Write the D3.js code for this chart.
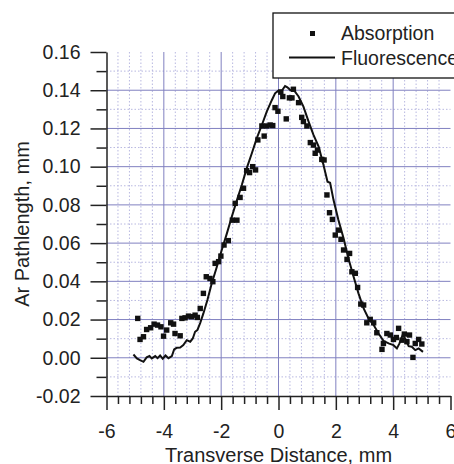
<!DOCTYPE html>
<html>
<head>
<meta charset="utf-8">
<script src="https://d3js.org/d3.v7.min.js"></script>
<style>
html, body { margin: 0; padding: 0; background: #fff; }
svg { font-family: 'Liberation Sans', Arial, sans-serif; }
.axis path, .axis line { stroke: #222; stroke-width: 1.5px; }
.axis text { font-size: 19.5px; fill: #222; }
.major-grid line { stroke: #8080c0; stroke-width: 1px; }
.minor-grid line { stroke: #b8b8e0; stroke-width: 1px; stroke-dasharray: 1.5,2; }
</style>
</head>
<body>
<script>
// absorption measurements (x in mm, pathlength in mm)
var absX = [-4.91, -4.83, -4.71, -4.60, -4.46, -4.34, -4.22, -4.10, -4.01, -3.90, -3.76, -3.66, -3.61, -3.43,
  -3.37, -3.26, -3.14, -3.03, -2.91, -2.83, -2.73, -2.62, -2.52, -2.39, -2.29, -2.21, -2.09, -2.01, -1.90,
  -1.75, -1.61, -1.45, -1.51, -1.34, -1.22, -1.11, -1.01, -0.90, -0.80, -0.72, -0.58, -0.50, -0.41, -0.29,
  -0.20, -0.12, -0.02, 0.08, 0.15, 0.27, 0.38, 0.47, 0.52, 0.70, 0.81, 0.87, 0.99, 1.11, 1.22, 1.28, 1.36,
  1.51, 1.59, 1.69, 1.78, 1.88, 1.98, 2.09, 2.18, 2.27, 2.39, 2.48, 2.56, 2.68, 2.76, 2.87, 2.97, 3.08,
  3.20, 3.32, 3.43, 3.61, 3.66, 3.78, 3.90, 4.01, 4.11, 4.19, 4.31, 4.39, 4.48, 4.57, 4.69, 4.77, 4.89, 5.00];
var absY = [0.0206, 0.0096, 0.0110, 0.0148, 0.0157, 0.0176, 0.0171, 0.0162, 0.0113, 0.0145, 0.0183, 0.0176,
  0.0127, 0.0115, 0.0206, 0.0209, 0.0218, 0.0215, 0.0223, 0.0211, 0.0258, 0.0337, 0.0424, 0.0415, 0.0398,
  0.0494, 0.0503, 0.0532, 0.0590, 0.0613, 0.0720, 0.0720, 0.0808, 0.0839, 0.0887, 0.0979, 0.0969, 0.1000,
  0.0983, 0.1140, 0.1213, 0.1160, 0.1213, 0.1218, 0.1215, 0.1309, 0.1290, 0.1390, 0.1367, 0.1250, 0.1360,
  0.1360, 0.1405, 0.1335, 0.1258, 0.1236, 0.1213, 0.1126, 0.1113, 0.1070, 0.1087, 0.1038, 0.1035, 0.0852,
  0.0759, 0.0724, 0.0642, 0.0668, 0.0620, 0.0564, 0.0515, 0.0546, 0.0450, 0.0442, 0.0368, 0.0281, 0.0276,
  0.0183, 0.0201, 0.0183, 0.0131, 0.0044, 0.0075, 0.0127, 0.0119, 0.0096, 0.0106, 0.0154, 0.0092, 0.0124,
  0.0084, 0.0119, 0.0002, 0.0075, 0.0096, 0.0072];

// fluorescence trace
var fluX = [-5.06, -4.94, -4.83, -4.71, -4.60, -4.50, -4.42, -4.30, -4.22, -4.13, -4.04, -3.94, -3.84, -3.72,
  -3.64, -3.55, -3.43, -3.32, -3.20, -3.08, -2.99, -2.91, -2.83, -2.73, -2.62, -2.48, -2.33, -2.15, -1.98,
  -1.80, -1.63, -1.45, -1.28, -1.11, -0.93, -0.76, -0.58, -0.41, -0.23, -0.12, 0.00, 0.12, 0.23, 0.31, 0.41,
  0.55, 0.70, 0.87, 1.05, 1.22, 1.40, 1.57, 1.71, 1.80, 1.92, 2.09, 2.27, 2.44, 2.62, 2.79, 2.97, 3.14, 3.32,
  3.49, 3.66, 3.84, 4.01, 4.13, 4.22, 4.33, 4.42, 4.54, 4.65, 4.77, 4.89, 5.04];
var fluY = [0.0017, -0.0003, -0.0012, -0.0021, 0.0002, 0.0009, -0.0003, 0.0009, -0.0002, 0.0012, -0.0005,
  0.0012, -0.0002, 0.0009, 0.0044, 0.0052, 0.0054, 0.0066, 0.0092, 0.0084, 0.0101, 0.0136, 0.0145, 0.0183,
  0.0232, 0.0302, 0.0389, 0.0476, 0.0564, 0.0651, 0.0738, 0.0825, 0.0904, 0.0991, 0.1070, 0.1148, 0.1218,
  0.1288, 0.1349, 0.1384, 0.1398, 0.1398, 0.1422, 0.1415, 0.1401, 0.1398, 0.1367, 0.1314, 0.1236, 0.1166,
  0.1105, 0.1009, 0.0921, 0.0916, 0.0825, 0.0721, 0.0625, 0.0520, 0.0424, 0.0337, 0.0258, 0.0206, 0.0171,
  0.0127, 0.0089, 0.0075, 0.0066, 0.0049, 0.0075, 0.0119, 0.0101, 0.0061, 0.0058, 0.0040, 0.0049, 0.0031];

var xTicks = [-6, -4, -2, 0, 2, 4, 6];
var yTicks = [-0.02, 0.00, 0.02, 0.04, 0.06, 0.08, 0.10, 0.12, 0.14, 0.16];
var seriesNames = ["Absorption", "Fluorescence"];

var width = 454, height = 464;
var x = d3.scaleLinear().domain([-6, 6]).range([106.5, 450.5]);
var y = d3.scaleLinear().domain([-0.02, 0.16]).range([396, 52]);

var svg = d3.select("body").append("svg")
    .attr("width", width)
    .attr("height", height);

var hyphen = function(s) { return s.replace("\u2212", "-"); };

// minor grid (dotted): every 0.4 mm and every 0.01 mm
var xMinor = d3.range(-6, 6.001, 0.4).filter(function(v) {
  return Math.abs(v / 2 - Math.round(v / 2)) > 0.01;
});
var yMinor = d3.range(-0.02, 0.1601, 0.01).filter(function(v) {
  return Math.abs(v / 0.02 - Math.round(v / 0.02)) > 0.01;
});

var minor = svg.append("g").attr("class", "minor-grid");
minor.selectAll(".vx").data(xMinor).enter().append("line")
    .attr("x1", function(d) { return x(d); }).attr("x2", function(d) { return x(d); })
    .attr("y1", y(0.16)).attr("y2", y(-0.02));
minor.selectAll(".hy").data(yMinor).enter().append("line")
    .attr("x1", x(-6)).attr("x2", x(6))
    .attr("y1", function(d) { return y(d); }).attr("y2", function(d) { return y(d); });

// major grid
var major = svg.append("g").attr("class", "major-grid");
major.selectAll(".vx").data(xTicks.slice(1, -1)).enter().append("line")
    .attr("x1", function(d) { return x(d); }).attr("x2", function(d) { return x(d); })
    .attr("y1", y(0.16)).attr("y2", y(-0.02));
major.selectAll(".hy").data(yTicks.slice(1, -1)).enter().append("line")
    .attr("x1", x(-6)).attr("x2", x(6))
    .attr("y1", function(d) { return y(d); }).attr("y2", function(d) { return y(d); });

// minor ticks
svg.append("g").attr("class", "axis")
    .attr("transform", "translate(0," + y(-0.02) + ")")
    .call(d3.axisBottom(x).tickValues(xMinor).tickSize(8).tickFormat(""))
    .select(".domain").remove();
svg.append("g").attr("class", "axis")
    .attr("transform", "translate(" + x(-6) + ",0)")
    .call(d3.axisLeft(y).tickValues(yMinor).tickSize(10).tickFormat(""))
    .select(".domain").remove();

// major axes
var xAxis = svg.append("g").attr("class", "axis")
    .attr("transform", "translate(0," + y(-0.02) + ")")
    .call(d3.axisBottom(x).tickValues(xTicks).tickSize(14).tickSizeOuter(0)
      .tickFormat(function(d) { return hyphen(d3.format("d")(d)); }));
xAxis.selectAll("text").attr("dy", "0.71em").attr("y", 28);

var yAxis = svg.append("g").attr("class", "axis")
    .attr("transform", "translate(" + x(-6) + ",0)")
    .call(d3.axisLeft(y).tickValues(yTicks).tickSize(16).tickSizeOuter(0)
      .tickFormat(function(d) { return hyphen(d3.format(".2f")(d)); }));
yAxis.selectAll("text").attr("x", -26);

// axis titles
svg.append("text")
    .attr("x", x(0)).attr("y", 462)
    .attr("text-anchor", "middle")
    .style("font-size", "20px").style("fill", "#222")
    .text("Transverse Distance, mm");
svg.append("text")
    .attr("transform", "translate(29," + y(0.07) + ") rotate(-90)")
    .attr("text-anchor", "middle")
    .style("font-size", "20px").style("fill", "#222")
    .text("Ar Pathlength, mm");

// fluorescence line
var line = d3.line()
    .x(function(d, i) { return x(fluX[i]); })
    .y(function(d, i) { return y(fluY[i]); });
svg.append("path")
    .attr("d", line(fluY))
    .attr("fill", "none")
    .attr("stroke", "#111")
    .attr("stroke-width", 2);

// absorption squares
var sq = 5.4;
svg.selectAll(".pt").data(absY).enter().append("rect")
    .attr("x", function(d, i) { return x(absX[i]) - sq / 2; })
    .attr("y", function(d) { return y(d) - sq / 2; })
    .attr("width", sq).attr("height", sq)
    .attr("fill", "#111");

// legend
var lg = svg.append("g");
lg.append("rect")
    .attr("x", 273).attr("y", 13)
    .attr("width", 200).attr("height", 65)
    .attr("fill", "#fff").attr("stroke", "#111").attr("stroke-width", 1.3);
lg.append("rect")
    .attr("x", 310).attr("y", 31).attr("width", 5).attr("height", 5)
    .attr("fill", "#111");
lg.append("line")
    .attr("x1", 289).attr("x2", 335).attr("y1", 57.5).attr("y2", 57.5)
    .attr("stroke", "#111").attr("stroke-width", 2);
lg.selectAll(".lt").data(seriesNames).enter().append("text")
    .attr("x", 341)
    .attr("y", function(d, i) { return 40 + i * 25; })
    .style("font-size", "19.5px").style("fill", "#222")
    .text(function(d) { return d; });
</script>
</body>
</html>
